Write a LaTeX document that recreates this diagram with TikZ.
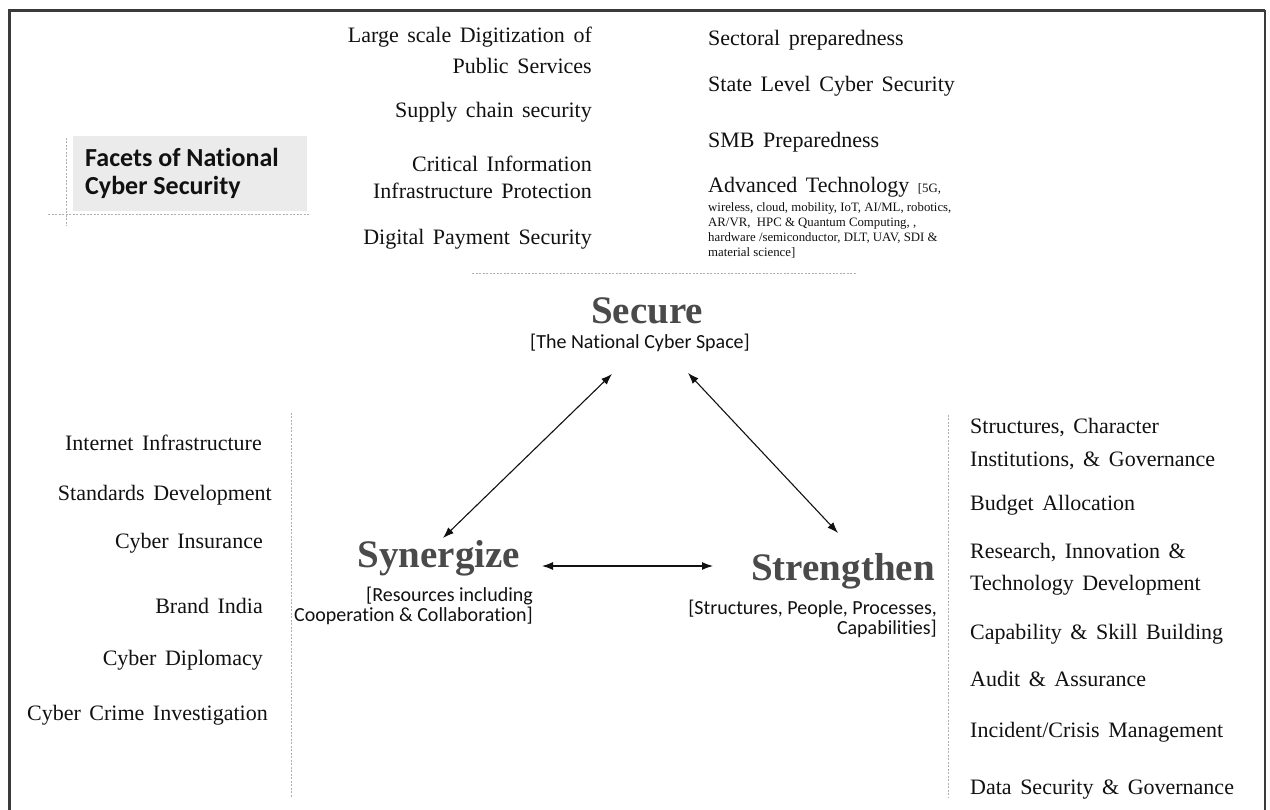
\documentclass[tikz,border=0pt]{standalone}
\usepackage{fontspec}
\setmainfont{Liberation Serif}
\newfontfamily\calib[Ligatures=NoCommon]{Carlito}
\newfontfamily\widetimes[WordSpace={1.55,1.2,1}]{Liberation Serif}
\usetikzlibrary{arrows.meta}

\definecolor{ink}{HTML}{111111}
\definecolor{heading}{HTML}{4A4A4A}
\definecolor{dotgray}{HTML}{B0B0B0}
\definecolor{boxgray}{HTML}{EBEBEB}
\definecolor{frame}{HTML}{3A3A3A}

\tikzset{
  item/.style={inner sep=0pt, text=ink, font=\widetimes\fontsize{22}{26}\selectfont},
  bigitem/.style={inner sep=0pt, text=ink, font=\widetimes\fontsize{22}{26}\selectfont},
  tiny/.style={inner sep=0pt, text=ink, font=\fontsize{12.8}{15}\selectfont},
  pillar/.style={inner sep=0pt, text=heading, font=\fontsize{39}{44}\selectfont\bfseries},
  gloss/.style={inner sep=0pt, text=ink, font=\calib\fontsize{20}{24}\selectfont},
  facet/.style={inner sep=0pt, text=ink, font=\calib\bfseries\fontsize{26}{29}\selectfont},
  guide/.style={draw=dotgray, line width=1pt, dash pattern=on 2pt off 1.5pt},
  link/.style={draw=ink, line width=1.1pt,
    {Latex[length=11pt,width=8pt]}-{Latex[length=11pt,width=8pt]}},
}

\begin{document}
\begin{tikzpicture}[x={(1pt,0)}, y={(0,-1pt)}]
\useasboundingbox (0,0) rectangle (1270,810);
\fill[white] (0,0) rectangle (1270,810);

% outer frame (open at the bottom)
\draw[frame, line width=3pt] (9.5,810) -- (9.5,10.5) -- (1265,10.5);
\draw[frame, line width=1.4pt] (1265,10.5) -- (1265,810);

% title box with its guide marks
\fill[boxgray] (73,136) rectangle (307,211);
\draw[guide] (48,215) -- (310,215);
\draw[guide] (66,138) -- (66,226);
\node[facet, anchor=base west] (t1) at (85,167) {Facets of National};
\node[facet, anchor=base west] (t2) at (85,195) {Cyber Security};

% upper middle column
\node[item, anchor=base east] (u1) at (592,43) {Large scale Digitization of};
\node[item, anchor=base east] (u2) at (592,74) {Public Services};
\node[item, anchor=base east] (u3) at (592,118) {Supply chain security};
\node[item, anchor=base east] (u4) at (592,172) {Critical Information};
\node[item, anchor=base east] (u5) at (592,199) {Infrastructure Protection};
\node[item, anchor=base east] (u6) at (592,245) {Digital Payment Security};

% upper right column
\node[item, anchor=base west] (r1) at (708,46) {Sectoral preparedness};
\node[item, anchor=base west] (r2) at (708,92) {State Level Cyber Security};
\node[item, anchor=base west] (r3) at (708,148) {SMB Preparedness};
\node[bigitem, anchor=base west] (r4) at (708,193) {Advanced Technology {\normalfont\fontsize{12.8}{15}\selectfont[5G,}};
\node[tiny, anchor=base west] (r5) at (708,212) {wireless, cloud, mobility, IoT, AI/ML, robotics,};
\node[tiny, anchor=base west] (r6) at (708,227) {AR/VR,\ \ HPC \& Quantum Computing, ,};
\node[tiny, anchor=base west] (r7) at (708,242) {hardware /semiconductor, DLT, UAV, SDI \&};
\node[tiny, anchor=base west] (r8) at (708,257) {material science]};

\draw[guide] (472,274) -- (857,274);

% the three pillars
\node[pillar, anchor=base] (secure) at (647,324) {Secure};
\node[gloss, anchor=base] (secureg) at (640,349) {[The National Cyber Space]};

\node[pillar, anchor=base] (synergize) at (439,567) {Synergize};
\node[gloss, anchor=base east] (syng1) at (533,601) {[Resources including};
\node[gloss, anchor=base east] (syng2) at (533,621) {Cooperation \& Collaboration]};

\node[pillar, anchor=base] (strengthen) at (843,580) {Strengthen};
\node[gloss, anchor=base east] (strg1) at (937,614) {[Structures, People, Processes,};
\node[gloss, anchor=base east] (strg2) at (937,634) {Capabilities]};

% arrow ends around the pillars
\coordinate (secL) at (612,374);
\coordinate (secR) at (688,373);
\coordinate (synT) at (443,538);
\coordinate (synR) at (542,566);
\coordinate (strT) at (838,533);
\coordinate (strL) at (713,566);

\draw[link] (secL) -- (synT);
\draw[link] (secR) -- (strT);
\draw[link] (synR) -- (strL);

% side column separators
\draw[guide] (291,413) -- (291,797);
\draw[guide] (948,415) -- (948,797);

% left column
\node[item, anchor=base east] (l1) at (262,450) {Internet Infrastructure};
\node[item, anchor=base east] (l2) at (272,500) {Standards Development};
\node[item, anchor=base east] (l3) at (263,548) {Cyber Insurance};
\node[item, anchor=base east] (l4) at (263,613) {Brand India};
\node[item, anchor=base east] (l5) at (263,665) {Cyber Diplomacy};
\node[item, anchor=base east] (l6) at (268,720) {Cyber Crime Investigation};

% right column
\node[item, anchor=base west] (s1) at (970,434) {Structures, Character};
\node[item, anchor=base west] (s2) at (970,466) {Institutions, \& Governance};
\node[item, anchor=base west] (s3) at (970,510) {Budget Allocation};
\node[item, anchor=base west] (s4) at (970,558) {Research, Innovation \&};
\node[item, anchor=base west] (s5) at (970,590) {Technology Development};
\node[item, anchor=base west] (s6) at (970,639) {Capability \& Skill Building};
\node[item, anchor=base west] (s7) at (970,686) {Audit \& Assurance};
\node[item, anchor=base west] (s8) at (970,737) {Incident/Crisis Management};
\node[item, anchor=base west] (s9) at (970,794) {Data Security \& Governance};
\end{tikzpicture}
\end{document}
